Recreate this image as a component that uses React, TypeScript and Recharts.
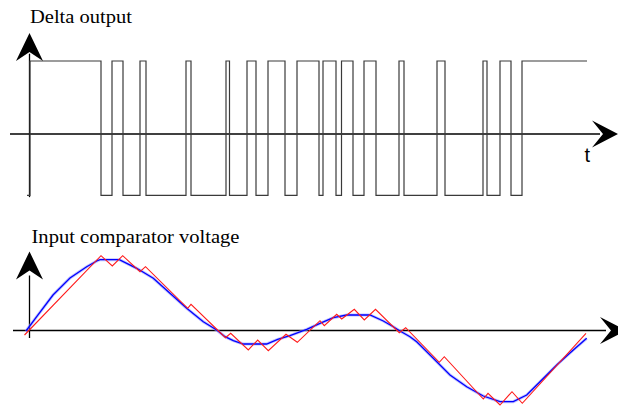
import React from "react";
import { ComposedChart, Line, XAxis, YAxis, ReferenceLine, ReferenceDot } from "recharts";

// ---- Top panel: delta modulator output (switching instants and levels) ----
const deltaTimes = [27, 30, 101, 112, 123, 140, 146, 186, 191, 226, 229.5, 247, 256, 268, 285, 297, 319, 323, 336, 341.5, 353, 364, 376, 399, 404, 437, 445, 483, 487, 500, 511, 522, 587];
const deltaLevels = [-0.84, 1, -0.84, 1, -0.84, 1, -0.84, 1, -0.84, 1, -0.84, 1, -0.84, 1, -0.84, 1, -0.84, 1, -0.84, 1, -0.84, 1, -0.84, 1, -0.84, 1, -0.84, 1, -0.84, 1, -0.84, 1, 1];

// ---- Bottom panel: integrator (red) vertices ----
const integTimes = [24.5, 101, 112.3, 122.7, 140, 145.5, 187.7, 191, 225.5, 230.7, 248.3, 257.7, 268.3, 286, 297.3, 320, 324.3, 336.7, 341.7, 354.3, 364.3, 375.5, 399.3, 405.7, 439.3, 444.3, 483.3, 488, 500, 512, 522.3, 586];
const integValues = [-4.5, 74.8, 64.5, 74.8, 58.8, 63.8, 22.2, 26.2, -7.2, -2.8, -19.5, -9.5, -20.2, -3.8, -11.8, 9.8, 4.8, 16.2, 11.5, 21.2, 10.5, 21.2, -2.2, 2.8, -31.8, -26.2, -68.5, -62.8, -74.5, -61.2, -72.8, -2.8];

// ---- Bottom panel: input signal (blue) ----
const inputTimes = [26, 36.7, 53, 70, 86.7, 96.7, 100, 119.3, 136.7, 153.3, 170, 186.7, 203.3, 216.7, 225, 233.3, 243.3, 266.7, 277.7, 290, 306.7, 320, 333.3, 346.7, 370, 383.3, 393.3, 400, 410, 416.7, 433.3, 450, 466.7, 483.3, 500, 513.3, 526.7, 540, 556.7, 573.3, 586.7];
const inputValues = [-0.5, 13.8, 35.5, 52.5, 63.8, 69.5, 70.8, 70.8, 62.2, 52.2, 37.2, 22.2, 8.8, 0.5, -6.2, -10.2, -13.5, -13.5, -8.8, -5.2, 1.2, 7.2, 12.8, 15.5, 15.5, 9.5, 3.8, -0.5, -6.2, -11.2, -27.8, -44.5, -56.2, -65.5, -71.2, -71.2, -64.5, -51.2, -34.5, -19.5, -7.8];

const W = 618;
const H = 407;

const deltaData = deltaTimes.map((t, i) => ({ t, v: deltaLevels[i] }));
const integData = integTimes.map((t, i) => ({ t, v: integValues[i] }));
const inputData = inputTimes.map((t, i) => ({ t, v: inputValues[i] }));

const upArrow = (p: any) => {
  const { cx, cy } = p;
  if (cx == null || cy == null) return <g />;
  const pts = [
    [cx, cy],
    [cx + 13.5, cy + 28],
    [cx, cy + 19],
    [cx - 13.5, cy + 28],
  ]
    .map((q) => q.join(","))
    .join(" ");
  return <polygon points={pts} fill="#000" />;
};

const rightArrow = (p: any) => {
  const { cx, cy } = p;
  if (cx == null || cy == null) return <g />;
  const pts = [
    [cx, cy],
    [cx - 26, cy - 13.5],
    [cx - 15, cy],
    [cx - 26, cy + 13.5],
  ]
    .map((q) => q.join(","))
    .join(" ");
  return <polygon points={pts} fill="#000" />;
};

export default function App() {
  return (
    <div style={{ position: "fixed", left: 0, top: 0, width: W, height: H, background: "#fff" }}>
      <ComposedChart width={W} height={H} margin={{ top: 0, right: 0, bottom: 0, left: 0 }}>
        <XAxis type="number" dataKey="t" domain={[0, W]} hide allowDataOverflow />
        <YAxis yAxisId="top" type="number" domain={[-(H - 134) / 73, 134 / 73]} hide allowDataOverflow />
        <YAxis yAxisId="bot" type="number" domain={[-(H - 330.5), 330.5]} hide allowDataOverflow />

        {/* top panel axes */}
        <ReferenceLine yAxisId="top" segment={[{ x: 10, y: 0 }, { x: 600, y: 0 }]} stroke="#000" strokeWidth={1.3} ifOverflow="visible" />
        <ReferenceLine yAxisId="top" segment={[{ x: 29.5, y: -0.865 }, { x: 29.5, y: 1.1 }]} stroke="#000" strokeWidth={1.3} ifOverflow="visible" />
        <ReferenceDot yAxisId="top" x={29.5} y={(134 - 33) / 73} r={1} shape={upArrow} ifOverflow="visible" />
        <ReferenceDot yAxisId="top" x={618} y={0} r={1} shape={rightArrow} ifOverflow="visible" />

        {/* bottom panel axes */}
        <ReferenceLine yAxisId="bot" segment={[{ x: 13, y: 0 }, { x: 606, y: 0 }]} stroke="#000" strokeWidth={1.3} ifOverflow="visible" />
        <ReferenceLine yAxisId="bot" segment={[{ x: 29.5, y: -7.5 }, { x: 29.5, y: 55 }]} stroke="#000" strokeWidth={1.3} ifOverflow="visible" />
        <ReferenceDot yAxisId="bot" x={29.5} y={330.5 - 251.5} r={1} shape={upArrow} ifOverflow="visible" />
        <ReferenceDot yAxisId="bot" x={618} y={0} r={1} shape={(p: any) => rightArrow({ cx: p.cx + 8, cy: p.cy })} ifOverflow="visible" />

        <Line yAxisId="top" data={deltaData} dataKey="v" type="stepAfter" stroke="#3a3a3a" strokeWidth={1.2} dot={false} activeDot={false} isAnimationActive={false} />

        <Line yAxisId="bot" data={inputData} dataKey="v" type="linear" stroke="#9a9aff" strokeWidth={3} strokeOpacity={0.6} dot={false} activeDot={false} isAnimationActive={false} />
        <Line yAxisId="bot" data={inputData} dataKey="v" type="linear" stroke="#0000ff" strokeWidth={1.3} dot={false} activeDot={false} isAnimationActive={false} />
        <Line yAxisId="bot" data={integData} dataKey="v" type="linear" stroke="#ff1a1a" strokeWidth={1.1} dot={false} activeDot={false} isAnimationActive={false} />
      </ComposedChart>
      <svg width={W} height={H} style={{ position: "absolute", left: 0, top: 0, pointerEvents: "none" }}>
        <text x={30} y={23} fontFamily="'Liberation Serif', 'DejaVu Serif', serif" fontSize={18} textLength={102} lengthAdjust="spacingAndGlyphs" fill="#000">
          Delta output
        </text>
        <text x={31.5} y={242.7} fontFamily="'Liberation Serif', 'DejaVu Serif', serif" fontSize={19} textLength={208} lengthAdjust="spacingAndGlyphs" fill="#000">
          Input comparator voltage
        </text>
        <text x={584.5} y={161.5} fontFamily="'Liberation Sans', Arial, sans-serif" fontSize={20} fill="#000">
          t
        </text>
      </svg>
    </div>
  );
}
